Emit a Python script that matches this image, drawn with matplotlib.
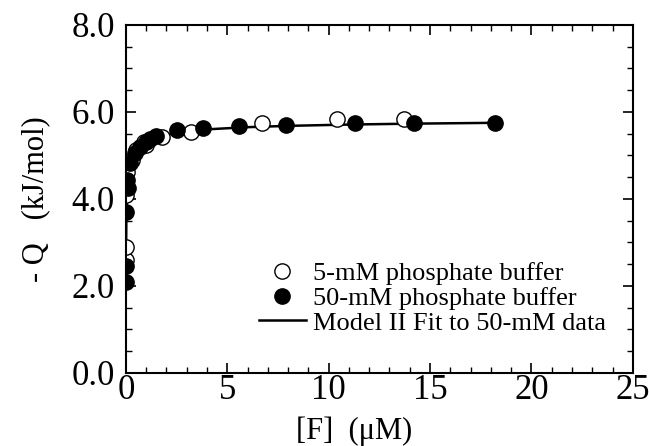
import matplotlib.pyplot as plt
from matplotlib.ticker import MultipleLocator

plt.rcParams['font.family'] = ['Liberation Serif', 'DejaVu Serif']

# 5-mM phosphate buffer (open circles)
f_5mm = [0.0, 0.0, 0.0, 0.05, 0.3, 0.5, 0.9, 1.0, 1.8, 3.2, 6.7, 10.4, 13.7]
q_5mm = [2.6, 2.9, 4.1, 4.62, 4.9, 5.13, 5.3, 5.25, 5.43, 5.55, 5.75, 5.84, 5.84]

# 50-mM phosphate buffer (filled circles)
f_50mm = [0.0, 0.0, 0.0, 0.1, 0.05, 0.2, 0.45, 0.7, 1.0, 1.2, 1.5, 2.5, 3.8,
          5.6, 7.9, 11.3, 14.2, 18.2]
q_50mm = [2.08, 2.45, 3.71, 4.25, 4.44, 4.83, 5.05, 5.2, 5.31, 5.37, 5.45, 5.58,
          5.62, 5.68, 5.70, 5.74, 5.75, 5.75]

# Model II fit curve
f_fit = [0.0, 0.02, 0.05, 0.1, 0.2, 0.4, 0.7, 1.0, 1.5, 2.5, 4.0, 6.0, 8.0,
         11.0, 14.0, 18.2]
q_fit = [2.0, 3.5, 4.1, 4.5, 4.8, 5.05, 5.22, 5.32, 5.42, 5.53, 5.60, 5.65,
         5.68, 5.71, 5.73, 5.75]

fig = plt.figure(figsize=(6.49, 4.46), dpi=100)
ax = fig.add_axes([0.194, 0.164, 0.781, 0.780])

ax.plot(f_fit, q_fit, color='black', lw=1.8, label='Model II Fit to 50-mM data', zorder=1)
ax.plot(f_5mm, q_5mm, 'o', ms=11, mfc='white', mec='black', mew=1.0,
        label='5-mM phosphate buffer', zorder=2)
ax.plot(f_50mm, q_50mm, 'o', ms=11, mfc='black', mec='black',
        label='50-mM phosphate buffer', zorder=3)

ax.set_xlim(0, 25)
ax.set_ylim(0, 8)
ax.xaxis.set_major_locator(MultipleLocator(5))
ax.xaxis.set_minor_locator(MultipleLocator(1))
ax.yaxis.set_major_locator(MultipleLocator(2))
ax.yaxis.set_minor_locator(MultipleLocator(0.5))
ax.yaxis.set_major_formatter(plt.FormatStrFormatter('%.1f'))
ax.tick_params(which='both', direction='in', top=True, right=True, labelsize=25)
ax.tick_params(which='major', length=7, width=1.2)
ax.tick_params(which='minor', length=4, width=1.0)
ax.tick_params(axis='x', pad=1)
ax.tick_params(axis='y', pad=8)
for s in ax.spines.values():
    s.set_linewidth(1.5)

ax.set_xlabel('[F]  (\u03bcM)', fontsize=22)
ax.xaxis.set_label_coords(0.45, -0.125)
ax.set_ylabel('- Q   (kJ/mol)', fontsize=22)
ax.yaxis.set_label_coords(-0.15, 0.5)

handles, labels = ax.get_legend_handles_labels()
order = [1, 2, 0]
ax.legend([handles[i] for i in order], [labels[i] for i in order],
          loc='upper left', bbox_to_anchor=(0.262, 0.32), frameon=False,
          fontsize=19, handlelength=1.8, handletextpad=0.25, labelspacing=0.05,
          borderpad=0, borderaxespad=0)

plt.savefig('out.png', dpi=100)
